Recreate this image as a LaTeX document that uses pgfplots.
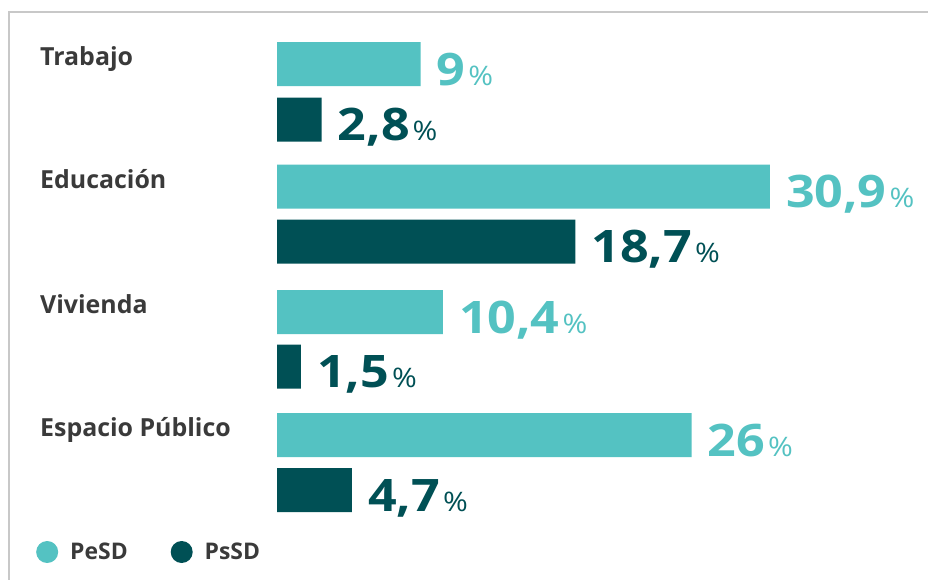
\documentclass[border=0pt]{standalone}
\usepackage{pgfplots}
\pgfplotsset{compat=1.18}
\usepackage{fontspec}
\setmainfont{Open Sans}
\newfontfamily\numfont{Open Sans}[FakeStretch=1.12]
\definecolor{light}{HTML}{54C2C2}
\definecolor{dark}{HTML}{005055}
\definecolor{txt}{HTML}{3A3A3A}
\definecolor{framec}{HTML}{C8C8C8}
\begin{document}
\begin{tikzpicture}
\useasboundingbox (0,0) rectangle (928bp,580bp);
\fill[white] (0,0) rectangle (928bp,580bp);
\draw[framec, line width=2bp] (9bp,0) -- (9bp,568bp) -- (928bp,568bp);
\begin{axis}[
  at={(277bp,0bp)}, anchor=south west,
  scale only axis, width=638bp, height=580bp,
  xmin=0, xmax=40, ymin=0, ymax=580, y dir=reverse,
  axis lines=none, clip=false,
  xbar, bar width=44bp, bar shift=0pt,
  point meta=x,
  /pgf/number format/use comma,
  /pgf/number format/assume math mode=true,
  nodes near coords={\numfont\fontsize{45}{45}\selectfont\bfseries\pgfmathprintnumber{\pgfplotspointmeta}\hspace{3bp}{\fontsize{27}{27}\mdseries\selectfont\%}},
  every node near coord/.append style={anchor=base west, inner sep=0pt, xshift=16bp, yshift=-21bp},
  legend style={draw=none, fill=none, inner sep=0pt, at={(axis cs:-15.11,552)}, anchor=west,
    font=\fontsize{23}{23}\selectfont\bfseries,
    nodes={inner sep=0pt, text=txt},
    /tikz/every odd column/.style={column sep=12bp},
    /tikz/every even column/.style={column sep=43bp}},
  legend columns=2,
  legend image code/.code={\fill[#1] (11bp,0bp) circle (11bp);},
]
\addplot[xbar, bar shift=0pt, fill=light, draw=none, every node near coord/.append style={text=light}]
  coordinates {(9,64) (30.9,186.5) (10.4,312) (26,435)};
\addplot[xbar, bar shift=0pt, fill=dark, draw=none, every node near coord/.append style={text=dark}]
  coordinates {(2.8,119.5) (18.7,241.5) (1.5,366.5) (4.7,490)};
\legend{PeSD, PsSD}
\begin{scope}[every node/.style={anchor=base west, inner sep=0pt, text=txt, font=\fontsize{25}{25}\selectfont\bfseries}]
\node at (axis cs:-14.86,65) {Trabajo};
\node at (axis cs:-14.86,188) {Educación};
\node at (axis cs:-14.86,313) {Vivienda};
\node at (axis cs:-14.86,436) {Espacio Público};
\end{scope}
\end{axis}
\end{tikzpicture}
\end{document}
